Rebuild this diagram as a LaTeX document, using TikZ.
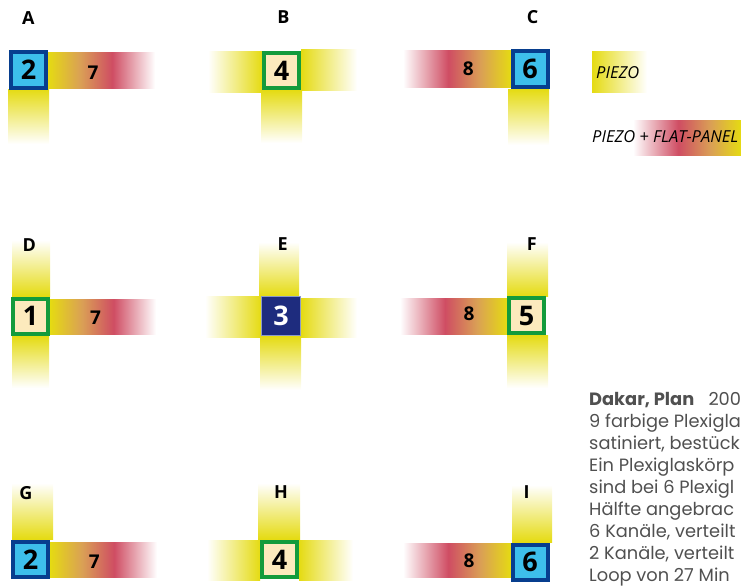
\documentclass[tikz,border=0pt]{standalone}
\usepackage{fontspec}
\setmainfont{Open Sans}
\newfontfamily\gothic{Poppins}
\definecolor{pyel}{RGB}{229,219,18}
\definecolor{pred}{RGB}{207,77,99}
\definecolor{pora}{RGB}{218,160,85}
\definecolor{lblue}{RGB}{61,191,235}
\definecolor{dblue}{RGB}{7,62,142}
\definecolor{pgreen}{RGB}{19,155,60}
\definecolor{beige}{RGB}{252,234,189}
\definecolor{navy}{RGB}{30,44,126}
\definecolor{navyedge}{RGB}{140,155,200}
\definecolor{txtgray}{RGB}{80,80,80}
\pgfdeclarehorizontalshading{sevenbar}{100bp}{color(0bp)=(pyel); color(25bp)=(pyel); color(40bp)=(pora); color(55bp)=(pred); color(75bp)=(white); color(100bp)=(white)}
\pgfdeclarehorizontalshading{eightbar}{100bp}{color(0bp)=(white); color(25bp)=(white); color(46bp)=(pred); color(61bp)=(pora); color(75bp)=(pyel); color(100bp)=(pyel)}
\tikzset{
  numbox/.style={line width=4pt, minimum size=35pt, inner sep=0pt, font=\bfseries\fontsize{27}{27}\selectfont},
  bluebox/.style={numbox, draw=dblue, fill=lblue},
  greenbox/.style={numbox, draw=pgreen, fill=beige},
  navybox/.style={line width=1pt, minimum size=39pt, inner sep=0pt, draw=navyedge, fill=navy, text=white, font=\bfseries\fontsize{27}{27}\selectfont},
  letter/.style={font=\bfseries\fontsize{18}{18}\selectfont},
  barnum/.style={font=\bfseries\fontsize{19}{19}\selectfont},
  legend/.style={font=\itshape\fontsize{16.5}{16.5}\selectfont, anchor=west, inner sep=0pt},
  desc/.style={font=\gothic\fontsize{17.8}{22}\selectfont, text=txtgray, anchor=base west, inner sep=0pt},
  yright/.style={left color=pyel, right color=white},
  yleft/.style={left color=white, right color=pyel},
  ydown/.style={top color=pyel, bottom color=white},
  yup/.style={top color=white, bottom color=pyel},
}
\begin{document}
\begin{tikzpicture}[x=1pt, y=-1pt]
\useasboundingbox (0,0) rectangle (741,586);
\clip (0,0) rectangle (741,586);
% ---------- bars ----------
% A
\shade[shading=sevenbar] (48,53) rectangle (155,88);
\shade[ydown] (8,89) rectangle (49,144);
% B
\shade[yleft] (208,52) rectangle (262,92);
\shade[yright] (301,50) rectangle (357,90);
\shade[ydown] (261,90) rectangle (302,143);
% C
\shade[shading=eightbar] (403,51) rectangle (511,87);
\shade[ydown] (508,89) rectangle (549,145);
% D
\shade[yup] (12,240) rectangle (50,296);
\shade[shading=sevenbar] (50,299) rectangle (156,334);
\shade[ydown] (12,336) rectangle (49,388);
% E
\shade[yup] (259,242) rectangle (299,296);
\shade[yleft] (205,296) rectangle (261,337);
\shade[yright] (301,298) rectangle (357,337);
\shade[ydown] (260,336) rectangle (301,390);
% F
\shade[yup] (507,242) rectangle (548,296);
\shade[shading=eightbar] (400,298) rectangle (507,334);
\shade[ydown] (507,335) rectangle (548,388);
% G
\shade[yup] (12,483) rectangle (53,539);
\shade[shading=sevenbar] (50,542) rectangle (157,577);
% H
\shade[yup] (258,483) rectangle (300,539);
\shade[yleft] (207,540) rectangle (260,580);
\shade[yright] (299,540) rectangle (353,580);
% I
\shade[yup] (512,485) rectangle (552,542);
\shade[shading=eightbar] (403,543) rectangle (511,577);
% ---------- boxes ----------
\node[bluebox] (bA) at (28.5,70) {2};
\node[greenbox] (bB) at (281.5,70.5) {4};
\node[bluebox] (bC) at (530,69) {6};
\node[greenbox] (bD) at (30.5,316) {1};
\node[navybox] (bE) at (281,316) {3};
\node[greenbox] (bF) at (526.5,315.5) {5};
\node[bluebox] (bG) at (30.5,559.5) {2};
\node[greenbox] (bH) at (279.5,559.5) {4};
\node[bluebox] (bI) at (530,562) {6};
% ---------- bar numbers ----------
\node[barnum] (nA) at (93,72.5) {7};
\node[barnum] (nC) at (468.3,68.5) {8};
\node[barnum] (nD) at (95.5,317.5) {7};
\node[barnum] (nF) at (469,314) {8};
\node[barnum] (nG) at (94.3,561.5) {7};
\node[barnum] (nI) at (469,560.5) {8};
% ---------- letters ----------
\node[letter] (lA) at (28.3,18) {A};
\node[letter] (lB) at (283.3,17) {B};
\node[letter] (lC) at (532.7,17) {C};
\node[letter] (lD) at (29.3,245) {D};
\node[letter] (lE) at (282.7,244) {E};
\node[letter] (lF) at (531.7,244) {F};
\node[letter] (lG) at (26,493) {G};
\node[letter] (lH) at (281,492) {H};
\node[letter] (lI) at (526.7,492) {I};
% ---------- legend ----------
\shade[yright] (592,52) rectangle (647,92);
\node[legend] (lg1) at (596,72.5) {PIEZO};
\shade[shading=eightbar] (633,120) rectangle (741,155);
\node[legend] (lg2) at (592,137) {PIEZO + FLAT-PANEL};
% ---------- description ----------
\node[desc] (d1) at (589,405) {\textbf{Dakar, Plan}\hspace{0.8em}200};
\node[desc] (d2) at (589,427) {9 farbige Plexigla};
\node[desc] (d3) at (589,449) {satiniert, bestück};
\node[desc] (d4) at (589,471) {Ein Plexiglaskörp};
\node[desc] (d5) at (589,493) {sind bei 6 Plexigl};
\node[desc] (d6) at (589,515) {Hälfte angebrac};
\node[desc] (d7) at (589,537) {6 Kanäle, verteilt};
\node[desc] (d8) at (589,559) {2 Kanäle, verteilt};
\node[desc] (d9) at (589,581) {Loop von 27 Min};
\end{tikzpicture}
\end{document}
